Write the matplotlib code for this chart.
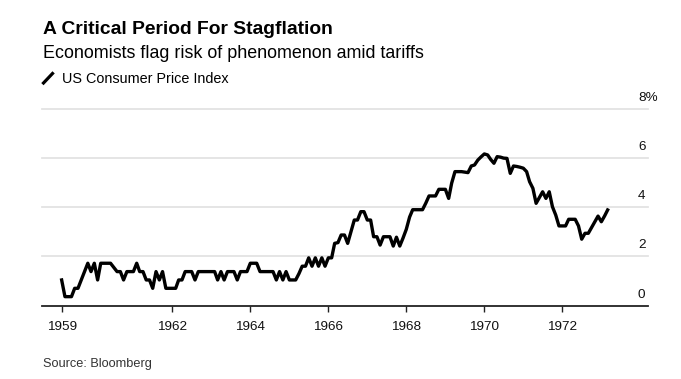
import matplotlib
matplotlib.use('Agg')
import matplotlib.pyplot as plt
import matplotlib.transforms as mtransforms
from matplotlib.lines import Line2D
import pandas as pd

plt.rcParams['font.family'] = ['Liberation Sans', 'DejaVu Sans']

# monthly US CPI, % y/y, Feb 1959 .. Feb 1973
dates = pd.date_range('1959-02-28', '1973-02-28', freq='ME')
cpi = [
    1.04, 0.36, 0.36, 0.36, 0.70, 0.70, 1.04, 1.38, 1.72, 1.38, 1.72,               # 1959
    1.04, 1.72, 1.72, 1.72, 1.72, 1.55, 1.38, 1.38, 1.04, 1.38, 1.38, 1.38,         # 1960
    1.72, 1.38, 1.38, 1.04, 1.04, 0.70, 1.38, 1.04, 1.38, 0.70, 0.70, 0.70,         # 1961
    0.70, 1.04, 1.04, 1.38, 1.38, 1.38, 1.04, 1.38, 1.38, 1.38, 1.38, 1.38,         # 1962
    1.38, 1.04, 1.38, 1.04, 1.38, 1.38, 1.38, 1.04, 1.38, 1.38, 1.38, 1.72,         # 1963
    1.72, 1.72, 1.38, 1.38, 1.38, 1.38, 1.38, 1.04, 1.38, 1.04, 1.38, 1.04,         # 1964
    1.04, 1.04, 1.30, 1.60, 1.60, 1.94, 1.60, 1.94, 1.60, 1.94, 1.60, 1.94,         # 1965
    1.94, 2.53, 2.56, 2.87, 2.87, 2.53, 3.00, 3.48, 3.48, 3.82, 3.82, 3.48,         # 1966
    3.48, 2.80, 2.80, 2.46, 2.80, 2.80, 2.80, 2.42, 2.78, 2.42, 2.74, 3.10,         # 1967
    3.60, 3.90, 3.90, 3.90, 3.90, 4.16, 4.46, 4.46, 4.46, 4.73, 4.73, 4.73,         # 1968
    4.36, 4.98, 5.45, 5.45, 5.45, 5.43, 5.41, 5.68, 5.72, 5.92, 6.05, 6.17,         # 1969
    6.13, 5.95, 5.79, 6.06, 6.04, 6.00, 5.99, 5.38, 5.68, 5.66, 5.63, 5.59,         # 1970
    5.45, 5.04, 4.77, 4.16, 4.40, 4.63, 4.36, 4.63, 4.02, 3.68, 3.24, 3.24,         # 1971
    3.24, 3.51, 3.51, 3.51, 3.24, 2.70, 2.94, 2.94, 3.17, 3.40, 3.64, 3.41,         # 1972
    3.65, 3.89,                                                                     # 1973
]

tick_dates = ['1959-02-28', '1962-01-01', '1964-01-01', '1966-01-01',
              '1968-01-01', '1970-01-01', '1972-01-01']
tick_labels = ['1959', '1962', '1964', '1966', '1968', '1970', '1972']
y_ticks = [0, 2, 4, 6, 8]
y_labels = ['0', '2', '4', '6', '8%']

W, H = 681, 379
fig = plt.figure(figsize=(W / 100, H / 100), dpi=100)
ax = fig.add_axes([42 / W, (H - 305.5) / H, 606 / W, 196.5 / H])

ax.plot(dates, cpi, color='black', lw=2.4, zorder=3)

ax.set_xlim(pd.Timestamp('1958-08-28'), pd.Timestamp('1974-03-13'))
ax.set_ylim(0, 8)

for y in y_ticks[1:]:
    ax.axhline(y, color='#e3e3e3', lw=1.3, zorder=0, clip_on=False)

for s in ['top', 'right', 'left']:
    ax.spines[s].set_visible(False)
ax.spines['bottom'].set_color('#222222')
ax.spines['bottom'].set_linewidth(1.3)

ax.set_yticks([])
ax.set_xticks(pd.to_datetime(tick_dates))
ax.set_xticklabels(tick_labels)
ax.tick_params(axis='x', length=4.5, width=1, color='#222222', pad=6.5,
               labelsize=9.7, labelcolor='#111111')

# y labels sit above the gridlines on the right
offset = mtransforms.ScaledTranslation(0, 8 / 100, fig.dpi_scale_trans)
trans = ax.get_yaxis_transform() + offset
for v, lab in zip(y_ticks, y_labels):
    ax.text(596 / 606, v, lab, transform=trans, ha='left', va='baseline',
            fontsize=9.7, color='#111111')

fig.text(43 / W, 1 - 34.3 / H, 'A Critical Period For Stagflation',
         fontsize=13.9, fontweight='bold', va='baseline', color='black')
fig.text(43 / W, 1 - 58.3 / H, 'Economists flag risk of phenomenon amid tariffs',
         fontsize=12.9, va='baseline', color='black')

fig.add_artist(Line2D([43.5 / W, 52.5 / W], [1 - 83 / H, 1 - 73.5 / H],
                      color='black', lw=2.3, transform=fig.transFigure))
fig.text(62 / W, 1 - 83.3 / H, 'US Consumer Price Index',
         fontsize=10.4, va='baseline', color='black')

fig.text(43 / W, 1 - 367.5 / H, 'Source: Bloomberg',
         fontsize=9.2, va='baseline', color='#333333')

fig.savefig('out.png', dpi=100)
